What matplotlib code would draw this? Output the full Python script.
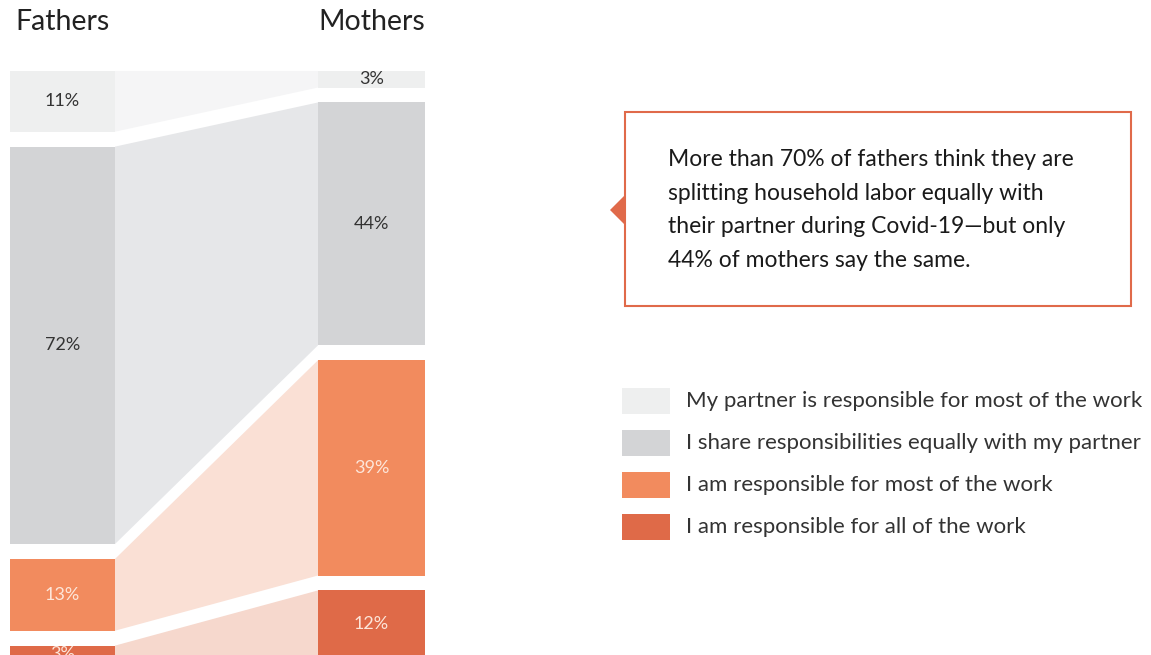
import numpy as np
import matplotlib.pyplot as plt
from matplotlib.patches import Rectangle, Polygon

plt.rcParams['font.family'] = ['Lato', 'DejaVu Sans']

groups = ['Fathers', 'Mothers']
categories = ['My partner is responsible for most of the work',
              'I share responsibilities equally with my partner',
              'I am responsible for most of the work',
              'I am responsible for all of the work']
fathers = [11, 72, 13, 3]
mothers = [3, 44, 39, 12]

bar_colors = ['#eeefef', '#d3d4d6', '#f28b5e', '#df6a48']
band_colors = ['#f5f5f6', '#e6e7e9', '#fae0d5', '#f6d8cd']
label_colors = ['#333333', '#333333', '#fde6da', '#fde6da']

note = ("More than 70% of fathers think they are\n"
        "splitting household labor equally with\n"
        "their partner during Covid-19\u2014but only\n"
        "44% of mothers say the same.")

gap = 2.7  # gap between stacked segments, in percent units


def stack(vals):
    tops = []
    y = 0
    for v in vals:
        tops.append(y)
        y += v + gap
    return np.array(tops), np.array(tops) + np.array(vals)


fig = plt.figure(figsize=(11.51, 6.55), dpi=100)
ax = fig.add_axes([0, 0, 1, 1])
ax.set_xlim(0, 1151)
ax.set_ylim(105.8, -12.86)
ax.axis('off')

cols = {'Fathers': (10, 115), 'Mothers': (318, 425)}
f_top, f_bot = stack(fathers)
m_top, m_bot = stack(mothers)

# connecting bands
for i in range(len(categories)):
    poly = Polygon([(cols['Fathers'][1], f_top[i]), (cols['Mothers'][0], m_top[i]),
                    (cols['Mothers'][0], m_bot[i]), (cols['Fathers'][1], f_bot[i])],
                   closed=True, facecolor=band_colors[i], edgecolor='none')
    ax.add_patch(poly)

for g, vals, tops in [('Fathers', fathers, f_top), ('Mothers', mothers, m_top)]:
    x0, x1 = cols[g]
    for i, v in enumerate(vals):
        ax.add_patch(Rectangle((x0, tops[i]), x1 - x0, v, facecolor=bar_colors[i], edgecolor='none'))
        ax.text((x0 + x1) / 2, tops[i] + v / 2, f'{v}%', ha='center', va='center',
                fontsize=13, color=label_colors[i])
    ax.text((x0 + x1) / 2, -8.9, g, ha='center', va='center', fontsize=20.5,
            color='#222222')

# callout box
box = fig.add_axes([0, 0, 1, 1], facecolor='none')
box.set_xlim(0, 1151)
box.set_ylim(655, 0)
box.axis('off')
box.add_patch(Rectangle((625, 112), 506, 194, facecolor='white', edgecolor='#e06a4a', lw=1.5))
box.add_patch(Polygon([(610, 210), (626, 194), (626, 226)], closed=True,
                      facecolor='#e06a4a', edgecolor='none'))
box.text(668, 210, note, ha='left', va='center', fontsize=16.5, color='#1a1a1a',
         linespacing=1.74)

# legend
for i, cat in enumerate(categories):
    yc = 401 + i * 42
    box.add_patch(Rectangle((622, yc - 13), 48, 26, facecolor=bar_colors[i], edgecolor='none'))
    box.text(686, yc, cat, ha='left', va='center', fontsize=16, color='#333333')

fig.savefig('out.png', dpi=100)
